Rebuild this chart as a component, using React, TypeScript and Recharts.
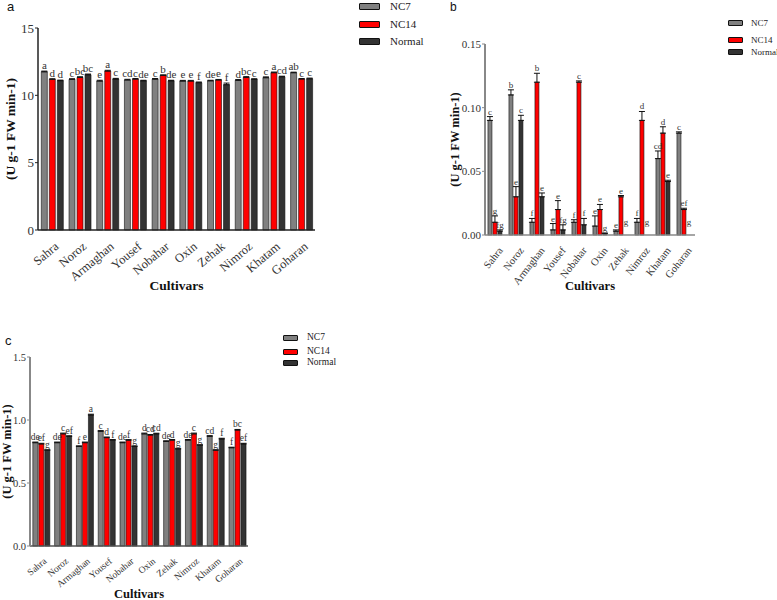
import { BarChart, Bar, XAxis, YAxis, ErrorBar, LabelList, Label } from "recharts";

const cultivars = [
  "Sahra",
  "Noroz",
  "Armaghan",
  "Yousef",
  "Nobahar",
  "Oxin",
  "Zehak",
  "Nimroz",
  "Khatam",
  "Goharan",
];
const seriesNames = ["NC7", "NC14", "Normal"];
const seriesColors = ["#808080", "#ff0000", "#333333"];

// panel a
const aNC7 = [11.75, 11.19, 11.06, 11.14, 11.2, 11.06, 11.08, 11.11, 11.31, 11.68];
const aNC14 = [11.19, 11.33, 11.8, 11.2, 11.48, 11.06, 11.14, 11.33, 11.68, 11.21];
const aNormal = [11.09, 11.53, 11.21, 11.08, 11.08, 10.94, 10.79, 11.19, 11.38, 11.23];
const aErrNC7 = [0.05, 0.04, 0.06, 0.05, 0.05, 0.05, 0.04, 0.06, 0.06, 0.04];
const aErrNC14 = [0.04, 0.05, 0.06, 0.05, 0.04, 0.05, 0.04, 0.06, 0.05, 0.04];
const aErrNormal = [0.04, 0.05, 0.05, 0.04, 0.04, 0.05, 0.12, 0.04, 0.04, 0.05];
const aLetNC7 = ["a", "c", "e", "cd", "c", "e", "de", "d", "c", "ab"];
const aLetNC14 = ["d", "bc", "a", "c", "b", "e", "e", "bc", "a", "c"];
const aLetNormal = ["d", "bc", "c", "de", "de", "f", "f", "c", "cd", "c"];
// stray letters printed inside the Normal bars
const aStrayVal = [2.4, 0, 9.2, 0, 0, 0, 8.0, 0, 0, 0];
const aStrayLet = ["f", "", "c", "", "", "", "h", "", "", ""];

// panel b
const bNC7 = [0.09, 0.11, 0.01, 0.004, 0.01, 0.007, 0.003, 0.01, 0.06, 0.08];
const bNC14 = [0.01, 0.03, 0.12, 0.02, 0.12, 0.02, 0.03, 0.09, 0.08, 0.02];
const bNormal = [0.003, 0.09, 0.03, 0.004, 0.008, 0.001, 0, 0, 0.042, 0];
const bErrNC7 = [0.003, 0.004, 0.003, 0.005, 0.002, 0.008, 0.001, 0.003, 0.006, 0.001];
const bErrNC14 = [0.005, 0.008, 0.007, 0.007, 0.001, 0.004, 0.001, 0.007, 0.005, 0.001];
const bErrNormal = [0.001, 0.004, 0.003, 0.004, 0.005, 0.0005, 0.006, 0.006, 0.001, 0.006];
const bLetNC7 = ["c", "b", "f", "e", "f", "e", "e", "f", "cd", "c"];
const bLetNC14 = ["g", "e", "b", "e", "c", "e", "e", "d", "d", "ef"];
const bLetNormal = ["fg", "c", "e", "fg", "f", "g", "g", "g", "e", "g"];

// panel c
const cNC7 = [0.82, 0.82, 0.79, 0.91, 0.82, 0.89, 0.83, 0.84, 0.87, 0.78];
const cNC14 = [0.81, 0.89, 0.82, 0.86, 0.84, 0.88, 0.84, 0.89, 0.76, 0.92];
const cNormal = [0.76, 0.87, 1.04, 0.84, 0.79, 0.89, 0.77, 0.8, 0.85, 0.81];
const cErrNC7 = [0.005, 0.005, 0.005, 0.006, 0.005, 0.006, 0.005, 0.005, 0.006, 0.004];
const cErrNC14 = [0.005, 0.006, 0.005, 0.005, 0.004, 0.005, 0.005, 0.006, 0.004, 0.005];
const cErrNormal = [0.004, 0.005, 0.006, 0.005, 0.004, 0.005, 0.005, 0.004, 0.005, 0.005];
const cLetNC7 = ["de", "de", "f", "c", "de", "d", "de", "de", "cd", "f"];
const cLetNC14 = ["ef", "c", "e", "d", "f", "cd", "d", "c", "g", "bc"];
const cLetNormal = ["g", "ef", "a", "f", "g", "cd", "g", "g", "f", "ef"];

const SERIF = "Liberation Serif, DejaVu Serif, serif";
const SANS = "Liberation Sans, Arial, sans-serif";

function buildRows(
  vals: number[][],
  errs: number[][],
  lets: string[][],
  stray?: number[],
  strayLet?: string[]
) {
  return cultivars.map((name, i) => ({
    name,
    v0: vals[0][i],
    v1: vals[1][i],
    v2: vals[2][i],
    e0: [0, errs[0][i]],
    e1: [0, errs[1][i]],
    e2: [0, errs[2][i]],
    c0: errs[0][i],
    c1: errs[1][i],
    c2: errs[2][i],
    l0: lets[0][i],
    l1: lets[1][i],
    l2: lets[2][i],
    sv: stray ? stray[i] : 0,
    sl: strayLet ? strayLet[i] : "",
  }));
}

const rowsA = buildRows(
  [aNC7, aNC14, aNormal],
  [aErrNC7, aErrNC14, aErrNormal],
  [aLetNC7, aLetNC14, aLetNormal],
  aStrayVal,
  aStrayLet
);
const rowsB = buildRows(
  [bNC7, bNC14, bNormal],
  [bErrNC7, bErrNC14, bErrNormal],
  [bLetNC7, bLetNC14, bLetNormal]
);
const rowsC = buildRows(
  [cNC7, cNC14, cNormal],
  [cErrNC7, cErrNC14, cErrNormal],
  [cLetNC7, cLetNC14, cLetNormal]
);

function CultivarTick(props: any) {
  const { x, y, payload, fontSize, angle } = props;
  const ax = x + 2;
  const ay = y + 3;
  return (
    <text
      x={ax}
      y={ay}
      dy="0.7em"
      textAnchor="end"
      transform={`rotate(${-angle} ${ax} ${ay})`}
      style={{ fontFamily: SERIF }}
      fontSize={fontSize}
      fill="#333"
    >
      {payload.value}
    </text>
  );
}

type PanelProps = {
  rows: any[];
  left: number;
  top: number;
  width: number;
  height: number;
  margin: { top: number; right: number; bottom: number; left: number };
  yWidth: number;
  xHeight: number;
  domain: [number, number];
  ticks: number[];
  digits: number;
  tickFont: number;
  xTickFont: number;
  xTickAngle: number;
  letterFont: number;
  titleFont: number;
  yAxisColor: string;
  xAxisColor: string;
  yAxisStroke: number;
  categoryGap: string;
  barGap: number;
  yLabelOffset: number;
};

function Panel(p: PanelProps) {
  const strayContent = (lp: any) => {
    const row = p.rows[lp.index];
    if (!row || !row.sl || !row.v2) return null;
    const base = lp.y + lp.height;
    const ys = base - (lp.height * row.sv) / row.v2;
    return (
      <text
        x={lp.x + lp.width / 2}
        y={ys}
        textAnchor="middle"
        style={{ fontFamily: SERIF }}
        fontSize={p.letterFont}
        fill="#333"
      >
        {row.sl}
      </text>
    );
  };

  const letterContent = (lp: any) => {
    if (!lp.value) return null;
    return (
      <text
        x={lp.x + lp.width / 2}
        y={lp.y - 2}
        textAnchor="middle"
        style={{ fontFamily: SERIF }}
        fontSize={p.letterFont}
        fill="#333"
      >
        {lp.value}
      </text>
    );
  };

  return (
    <div style={{ position: "absolute", left: p.left, top: p.top }}>
      <BarChart
        width={p.width}
        height={p.height}
        data={p.rows}
        margin={p.margin}
        barCategoryGap={p.categoryGap}
        barGap={p.barGap}
      >
        <XAxis
          dataKey="name"
          interval={0}
          tickLine={false}
          axisLine={{ stroke: p.xAxisColor, strokeWidth: 1.5 }}
          height={p.xHeight}
          tick={<CultivarTick fontSize={p.xTickFont} angle={p.xTickAngle} />}
        >
          <Label
            value="Cultivars"
            position="insideBottom"
            offset={2}
            fill="#111"
            fontSize={p.titleFont}
            fontWeight="bold"
            style={{ fontFamily: SERIF }}
          />
        </XAxis>
        <YAxis
          type="number"
          domain={p.domain}
          ticks={p.ticks}
          interval={0}
          width={p.yWidth}
          tickSize={3}
          tickMargin={1}
          tickFormatter={(v: number) => v.toFixed(p.digits)}
          tick={{ fontSize: p.tickFont, fill: "#333", style: { fontFamily: SERIF } }}
          tickLine={{ stroke: p.yAxisColor }}
          axisLine={{ stroke: p.yAxisColor, strokeWidth: p.yAxisStroke }}
        >
          <Label
            value="(U g-1 FW min-1)"
            angle={-90}
            position="insideLeft"
            offset={p.yLabelOffset}
            fill="#111"
            fontSize={p.titleFont}
            fontWeight="bold"
            style={{ textAnchor: "middle", fontFamily: SERIF }}
          />
        </YAxis>
        {[0, 1, 2].map((k) => (
          <Bar
            key={`v${k}`}
            dataKey={`v${k}`}
            stackId={`s${k}`}
            fill={seriesColors[k]}
            stroke="#111"
            strokeWidth={0.6}
            isAnimationActive={false}
          >
            <ErrorBar
              dataKey={`e${k}`}
              direction="y"
              width={3}
              stroke="#111"
              strokeWidth={1}
            />
            {k === 2 && <LabelList dataKey="sl" content={strayContent} />}
          </Bar>
        ))}
        {[0, 1, 2].map((k) => (
          <Bar
            key={`c${k}`}
            dataKey={`c${k}`}
            stackId={`s${k}`}
            fill="transparent"
            stroke="none"
            isAnimationActive={false}
          >
            <LabelList dataKey={`l${k}`} content={letterContent} />
          </Bar>
        ))}
      </BarChart>
    </div>
  );
}

function SeriesLegend({
  left,
  top,
  rowTops,
  swW,
  swH,
  gap,
  fontSize,
}: {
  left: number;
  top: number;
  rowTops: number[];
  swW: number;
  swH: number;
  gap: number;
  fontSize: number;
}) {
  return (
    <div style={{ position: "absolute", left, top }}>
      {seriesNames.map((n, i) => (
        <div
          key={n}
          style={{
            position: "absolute",
            top: rowTops[i],
            left: 0,
            display: "flex",
            alignItems: "center",
            whiteSpace: "nowrap",
          }}
        >
          <div
            style={{
              width: swW,
              height: swH,
              background: seriesColors[i],
              border: "1px solid #111",
              borderRadius: 1,
              marginRight: gap,
              boxSizing: "border-box",
            }}
          />
          <span style={{ fontFamily: SERIF, fontSize, color: "#222", lineHeight: 1 }}>{n}</span>
        </div>
      ))}
    </div>
  );
}

function PanelTag({
  text,
  left,
  top,
  size,
}: {
  text: string;
  left: number;
  top: number;
  size: number;
}) {
  return (
    <div
      style={{
        position: "absolute",
        left,
        top,
        fontFamily: SANS,
        fontSize: size,
        lineHeight: 1,
        color: "#111",
      }}
    >
      {text}
    </div>
  );
}

export default function App() {
  return (
    <div
      style={{
        position: "absolute",
        left: 0,
        top: 0,
        width: 777,
        height: 600,
        background: "#fff",
        overflow: "hidden",
      }}
    >
      <Panel
        rows={rowsA}
        left={0}
        top={0}
        width={330}
        height={300}
        margin={{ top: 28, right: 15, bottom: 8, left: 8 }}
        yWidth={30}
        xHeight={62}
        domain={[0, 15]}
        ticks={[0, 5, 10, 15]}
        digits={0}
        tickFont={13}
        xTickFont={12.5}
        xTickAngle={40}
        letterFont={11}
        titleFont={13.5}
        yAxisColor="#222"
        xAxisColor="#222"
        yAxisStroke={1.5}
        categoryGap="12%"
        barGap={2}
        yLabelOffset={2}
      />
      <Panel
        rows={rowsB}
        left={440}
        top={0}
        width={270}
        height={300}
        margin={{ top: 44, right: 15, bottom: 8, left: 5 }}
        yWidth={40}
        xHeight={57}
        domain={[0, 0.15]}
        ticks={[0, 0.05, 0.1, 0.15]}
        digits={2}
        tickFont={11}
        xTickFont={10.5}
        xTickAngle={52}
        letterFont={9}
        titleFont={12.5}
        yAxisColor="#888"
        xAxisColor="#888"
        yAxisStroke={2}
        categoryGap="14%"
        barGap={1}
        yLabelOffset={10}
      />
      <Panel
        rows={rowsC}
        left={0}
        top={300}
        width={265}
        height={300}
        margin={{ top: 57, right: 17, bottom: 0, left: 4 }}
        yWidth={26}
        xHeight={54}
        domain={[0, 1.5]}
        ticks={[0, 0.5, 1, 1.5]}
        digits={1}
        tickFont={10.5}
        xTickFont={9.5}
        xTickAngle={40}
        letterFont={9.5}
        titleFont={12.5}
        yAxisColor="#888"
        xAxisColor="#555"
        yAxisStroke={2}
        categoryGap="13%"
        barGap={1}
        yLabelOffset={3}
      />
      <SeriesLegend left={359} top={0.5} rowTops={[0, 18, 35]} swW={21} swH={7} gap={10} fontSize={11} />
      <SeriesLegend left={728} top={18.5} rowTops={[0, 17, 29]} swW={15} swH={6} gap={8} fontSize={9} />
      <SeriesLegend left={283} top={333} rowTops={[0, 14, 25]} swW={15} swH={6} gap={9} fontSize={9.5} />
      <PanelTag text="a" left={7} top={0} size={13} />
      <PanelTag text="b" left={450} top={1} size={12} />
      <PanelTag text="c" left={5} top={334} size={13} />
    </div>
  );
}
